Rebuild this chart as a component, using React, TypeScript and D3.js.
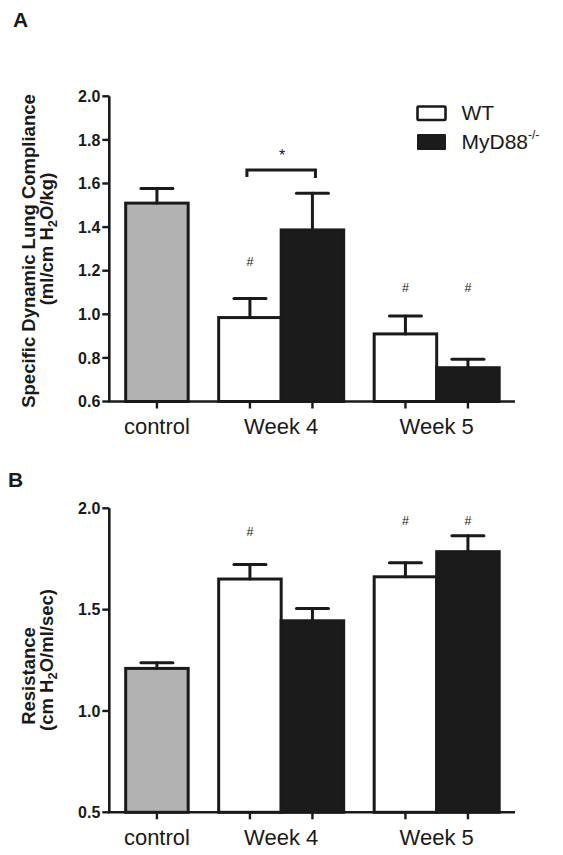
import React from "react";
import * as d3 from "d3";

// ---------- data ----------
const barGroups = ["control", "Week 4", "Week 4", "Week 5", "Week 5"];
const barKinds = ["control", "WT", "KO", "WT", "KO"];
const groupLabels = ["control", "Week 4", "Week 5"];

const complianceMean = [1.51, 0.985, 1.387, 0.91, 0.755];
const complianceSEM = [0.067, 0.088, 0.168, 0.082, 0.039];
const complianceTicks = [0.6, 0.8, 1.0, 1.2, 1.4, 1.6, 1.8, 2.0];
const complianceDomain = [0.6, 2.0];
const complianceHash = [
  { bar: 1, value: 1.24 },
  { bar: 3, value: 1.124 },
  { bar: 4, value: 1.124 },
];
const complianceStar = { from: 1, to: 2, value: 1.662, starValue: 1.747 };

const resistanceMean = [1.21, 1.651, 1.445, 1.662, 1.786];
const resistanceSEM = [0.028, 0.072, 0.061, 0.069, 0.079];
const resistanceTicks = [0.5, 1.0, 1.5, 2.0];
const resistanceDomain = [0.5, 2.0];
const resistanceHash = [
  { bar: 1, value: 1.884 },
  { bar: 3, value: 1.939 },
  { bar: 4, value: 1.939 },
];

const legendItems = ["WT", "MyD88"];

// ---------- style ----------
const FONT = "'Liberation Sans', Arial, Helvetica, sans-serif";
const INK = "#1a1a1a";
const FILL: Record<string, string> = { control: "#b2b2b2", WT: "#ffffff", KO: "#1b1b1b" };
const GAP_UNITS = 0.488;

function barUnitStart(i: number) {
  const gi = groupLabels.indexOf(barGroups[i]);
  return i + GAP_UNITS * gi;
}

const x = d3.scaleLinear().domain([-0.262, 6.229]).range([109.3, 515]);
const barW = x(1) - x(0);
const capHalf = 16;

type PanelProps = {
  mean: number[];
  sem: number[];
  ticks: number[];
  domain: number[];
  yTop: number;
  yBottom: number;
  hashes: { bar: number; value: number }[];
  star?: { from: number; to: number; value: number; starValue: number };
  label: string;
  labelX: number;
  labelY: number;
  line1: string;
  line1Center: number;
  line2Pre: string;
  line2Post: string;
  line2Center: number;
  tickFmt: (v: number) => string;
};

function Panel(p: PanelProps) {
  const y = d3.scaleLinear().domain(p.domain).range([p.yBottom, p.yTop]);
  const base = y(p.domain[0]);
  const axisX = x(-0.262);
  const centers = p.mean.map((_, i) => x(barUnitStart(i) + 0.5));
  return (
    <g>
      <text x={p.labelX} y={p.labelY} fontFamily={FONT} fontWeight="bold" fontSize={21} fill={INK}>
        {p.label}
      </text>
      {/* y label */}
      <text
        transform={`translate(35,${p.line1Center}) rotate(-90)`}
        textAnchor="middle"
        fontFamily={FONT}
        fontWeight="bold"
        fontSize={18.5}
        fill={INK}
      >
        {p.line1}
      </text>
      <text
        transform={`translate(53,${p.line2Center}) rotate(-90)`}
        textAnchor="middle"
        fontFamily={FONT}
        fontWeight="bold"
        fontSize={18.5}
        fill={INK}
      >
        {p.line2Pre}
        <tspan fontSize={13} dy={4}>2</tspan>
        <tspan dy={-4}>{p.line2Post}</tspan>
      </text>
      {/* bars */}
      {p.mean.map((m, i) => {
        const x0 = x(barUnitStart(i));
        const top = y(m);
        return (
          <rect
            key={"b" + i}
            x={x0}
            y={top}
            width={barW}
            height={base - top}
            fill={FILL[barKinds[i]]}
            stroke={INK}
            strokeWidth={3}
          />
        );
      })}
      {/* error bars */}
      {p.mean.map((m, i) => {
        const cx = centers[i];
        const t = y(m + p.sem[i]);
        return (
          <g key={"e" + i} stroke={INK} strokeWidth={3} strokeLinecap="round">
            <line x1={cx} x2={cx} y1={y(m)} y2={t} />
            <line x1={cx - capHalf} x2={cx + capHalf} y1={t} y2={t} />
          </g>
        );
      })}
      {/* axes */}
      <line x1={axisX} x2={axisX} y1={y(p.domain[1])} y2={base} stroke={INK} strokeWidth={2.6} />
      <line x1={axisX - 1.3} x2={515} y1={base} y2={base} stroke={INK} strokeWidth={2.6} />
      {p.ticks.map((t) => (
        <g key={"t" + t}>
          <line x1={axisX - 7} x2={axisX} y1={y(t)} y2={y(t)} stroke={INK} strokeWidth={2.4} />
          <text
            x={axisX - 9}
            y={y(t)}
            dy="0.36em"
            textAnchor="end"
            fontFamily={FONT}
            fontWeight="bold"
            fontSize={16}
            fill={INK}
          >
            {p.tickFmt(t)}
          </text>
        </g>
      ))}
      {centers.map((cx, i) => (
        <line key={"xt" + i} x1={cx} x2={cx} y1={base} y2={base + 7} stroke={INK} strokeWidth={2.4} />
      ))}
      {groupLabels.map((g) => {
        const idx = barGroups.map((b, i) => (b === g ? i : -1)).filter((i) => i >= 0);
        const cx = (x(barUnitStart(idx[0])) + x(barUnitStart(idx[idx.length - 1]) + 1)) / 2;
        return (
          <text
            key={"g" + g}
            x={cx}
            y={base + 32.8}
            textAnchor="middle"
            fontFamily={FONT}
            fontSize={22}
            fill={INK}
          >
            {g}
          </text>
        );
      })}
      {/* significance marks */}
      {p.hashes.map((h, i) => (
        <text
          key={"h" + i}
          x={centers[h.bar]}
          y={y(h.value)}
          dy="0.35em"
          textAnchor="middle"
          fontFamily={FONT}
          fontSize={12.5}
          fill={INK}
        >
          #
        </text>
      ))}
      {p.star && (
        <g>
          <path
            d={`M${centers[p.star.from] - 3},${y(p.star.value) + 7}V${y(p.star.value)}H${
              centers[p.star.to] + 3
            }V${y(p.star.value) + 8}`}
            fill="none"
            stroke={INK}
            strokeWidth={3}
          />
          <text
            x={(centers[p.star.from] + centers[p.star.to]) / 2 + 1}
            y={y(p.star.starValue)}
            dy="0.58em"
            textAnchor="middle"
            fontFamily={FONT}
            fontSize={16}
            fill={INK}
          >
            *
          </text>
        </g>
      )}
    </g>
  );
}

export default function App() {
  return (
    <svg
      width={563}
      height={855}
      style={{ position: "absolute", left: 0, top: 0, background: "#fff" }}
    >
      <rect width={563} height={855} fill="#fff" />
      <Panel
        mean={complianceMean}
        sem={complianceSEM}
        ticks={complianceTicks}
        domain={complianceDomain}
        yTop={96.3}
        yBottom={401.5}
        hashes={complianceHash}
        star={complianceStar}
        label="A"
        labelX={13}
        labelY={27}
        line1="Specific Dynamic Lung Compliance"
        line1Center={251}
        line2Pre="(ml/cm H"
        line2Post="O/kg)"
        line2Center={239}
        tickFmt={d3.format(".1f")}
      />
      <Panel
        mean={resistanceMean}
        sem={resistanceSEM}
        ticks={resistanceTicks}
        domain={resistanceDomain}
        yTop={508.3}
        yBottom={812.3}
        hashes={resistanceHash}
        label="B"
        labelX={8}
        labelY={487}
        line1="Resistance"
        line1Center={676}
        line2Pre="(cm H"
        line2Post="O/ml/sec)"
        line2Center={660}
        tickFmt={d3.format(".1f")}
      />
      {/* legend */}
      <g fontFamily={FONT} fontSize={21} fill={INK}>
        <rect x={417.5} y={106.5} width={28} height={13.5} fill="#fff" stroke={INK} strokeWidth={2.6} rx={1} />
        <rect x={417} y={134} width={29} height={16} fill={FILL.KO} rx={1} />
        <text x={461.5} y={120}>{legendItems[0]}</text>
        <text x={461.5} y={148.5}>
          {legendItems[1]}
          <tspan fontSize={12} dy={-10}>-/-</tspan>
        </text>
      </g>
    </svg>
  );
}
